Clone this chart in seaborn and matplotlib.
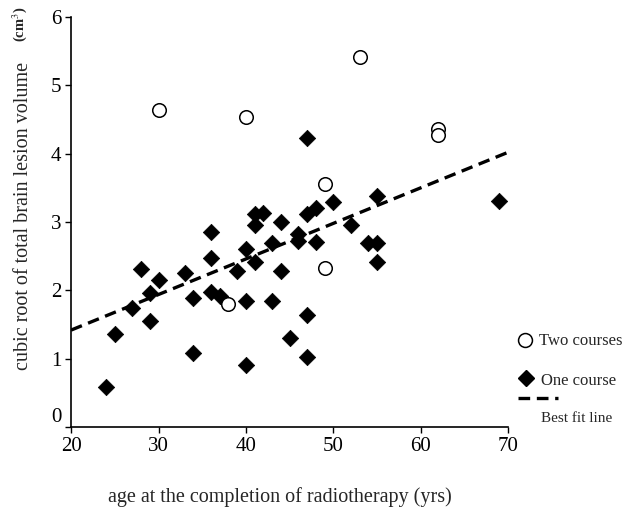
import matplotlib
matplotlib.use("Agg")
import matplotlib.pyplot as plt
from matplotlib.lines import Line2D
import seaborn as sns

# patients who had two courses of radiotherapy (open circles)
two_age = [30, 40, 53, 62, 62, 49, 49, 38]
two_vol = [4.64, 4.53, 5.41, 4.36, 4.27, 3.56, 2.33, 1.80]

# patients who had one course (filled diamonds)
one_age = [24, 25, 27, 28, 29, 29, 30, 33, 34, 34, 36, 36, 36, 37, 39,
           40, 40, 40, 41, 41, 41, 42, 43, 43, 44, 44, 45, 46, 46, 47,
           47, 47, 47, 48, 48, 50, 52, 54, 55, 55, 55, 69]
one_vol = [0.59, 1.36, 1.74, 2.32, 1.96, 1.56, 2.15, 2.26, 1.89, 1.09, 2.85,
           2.48, 1.98, 1.92, 2.29, 2.60, 1.85, 0.91, 3.12, 2.95, 2.41, 3.13,
           2.70, 1.84, 3.00, 2.29, 1.30, 2.83, 2.72, 4.23, 3.12, 1.64, 1.02,
           3.21, 2.71, 3.29, 2.96, 2.69, 3.38, 2.69, 2.42, 3.30]

# best fit line end points
fit_age = [20, 70]
fit_vol = [1.42, 4.02]

sns.set_style("ticks")
plt.rcParams["font.family"] = ["Liberation Serif", "DejaVu Serif"]
plt.rcParams["mathtext.fontset"] = "stix"

fig = plt.figure(figsize=(6.29, 5.08), dpi=100)
ax = fig.add_axes([0.113, 0.159, 0.695, 0.808])

sns.lineplot(x=fit_age, y=fit_vol, color="black", lw=2.4,
             linestyle=(0, (3.5, 2.0)), ax=ax, zorder=3)
sns.scatterplot(x=one_age, y=one_vol, marker="D", s=70, color="black",
                edgecolor="black", linewidth=0.5, ax=ax, zorder=2)
sns.scatterplot(x=two_age, y=two_vol, marker="o", s=95, color="white",
                edgecolor="black", linewidth=1.1, ax=ax, zorder=4)

ax.set_xlim(20, 70)
ax.set_ylim(0, 6)
ax.set_xticks(range(20, 71, 10))
ax.set_yticks(range(0, 7))
sns.despine(ax=ax)
for s in ["left", "bottom"]:
    ax.spines[s].set_linewidth(1.2)
    ax.spines[s].set_color("black")
ax.tick_params(axis="both", direction="out", length=4, width=1,
               colors="black", labelsize=15, pad=3)
ax.get_yticklabels()[0].set_verticalalignment("bottom")

ax.set_xlabel("age at the completion of radiotherapy (yrs)", fontsize=14.5)
ax.xaxis.set_label_coords(0.478, -0.145)
ax.set_ylabel("cubic root of total brain lesion volume", fontsize=14.5)
ax.yaxis.set_label_coords(-0.088, 0.515)
ax.text(-0.117, 0.982, "(cm$^3$)", transform=ax.transAxes, rotation=90,
        ha="center", va="center", fontsize=10.5, fontweight="bold")

# legend drawn by hand to the right of the axes
W, H = 629, 508
def fx(px):
    return px / W
def fy(py):
    return 1 - py / H

fig.add_artist(Line2D([fx(525)], [fy(340)], marker="o", markersize=10,
                      markerfacecolor="white", markeredgecolor="black",
                      markeredgewidth=1.1, linestyle="none"))
fig.text(fx(539), fy(341), "Two courses", fontsize=12, va="center")
fig.add_artist(Line2D([fx(526)], [fy(378)], marker="D", markersize=8,
                      color="black", linestyle="none"))
fig.text(fx(541), fy(381), "One course", fontsize=12, va="center")
fig.add_artist(Line2D([fx(518), fx(558)], [fy(398), fy(398)], color="black",
                      lw=2.4, linestyle=(0, (3.5, 2.0))))
fig.text(fx(541), fy(419), "Best fit line", fontsize=11, va="center")

fig.savefig("out.png", dpi=100)
